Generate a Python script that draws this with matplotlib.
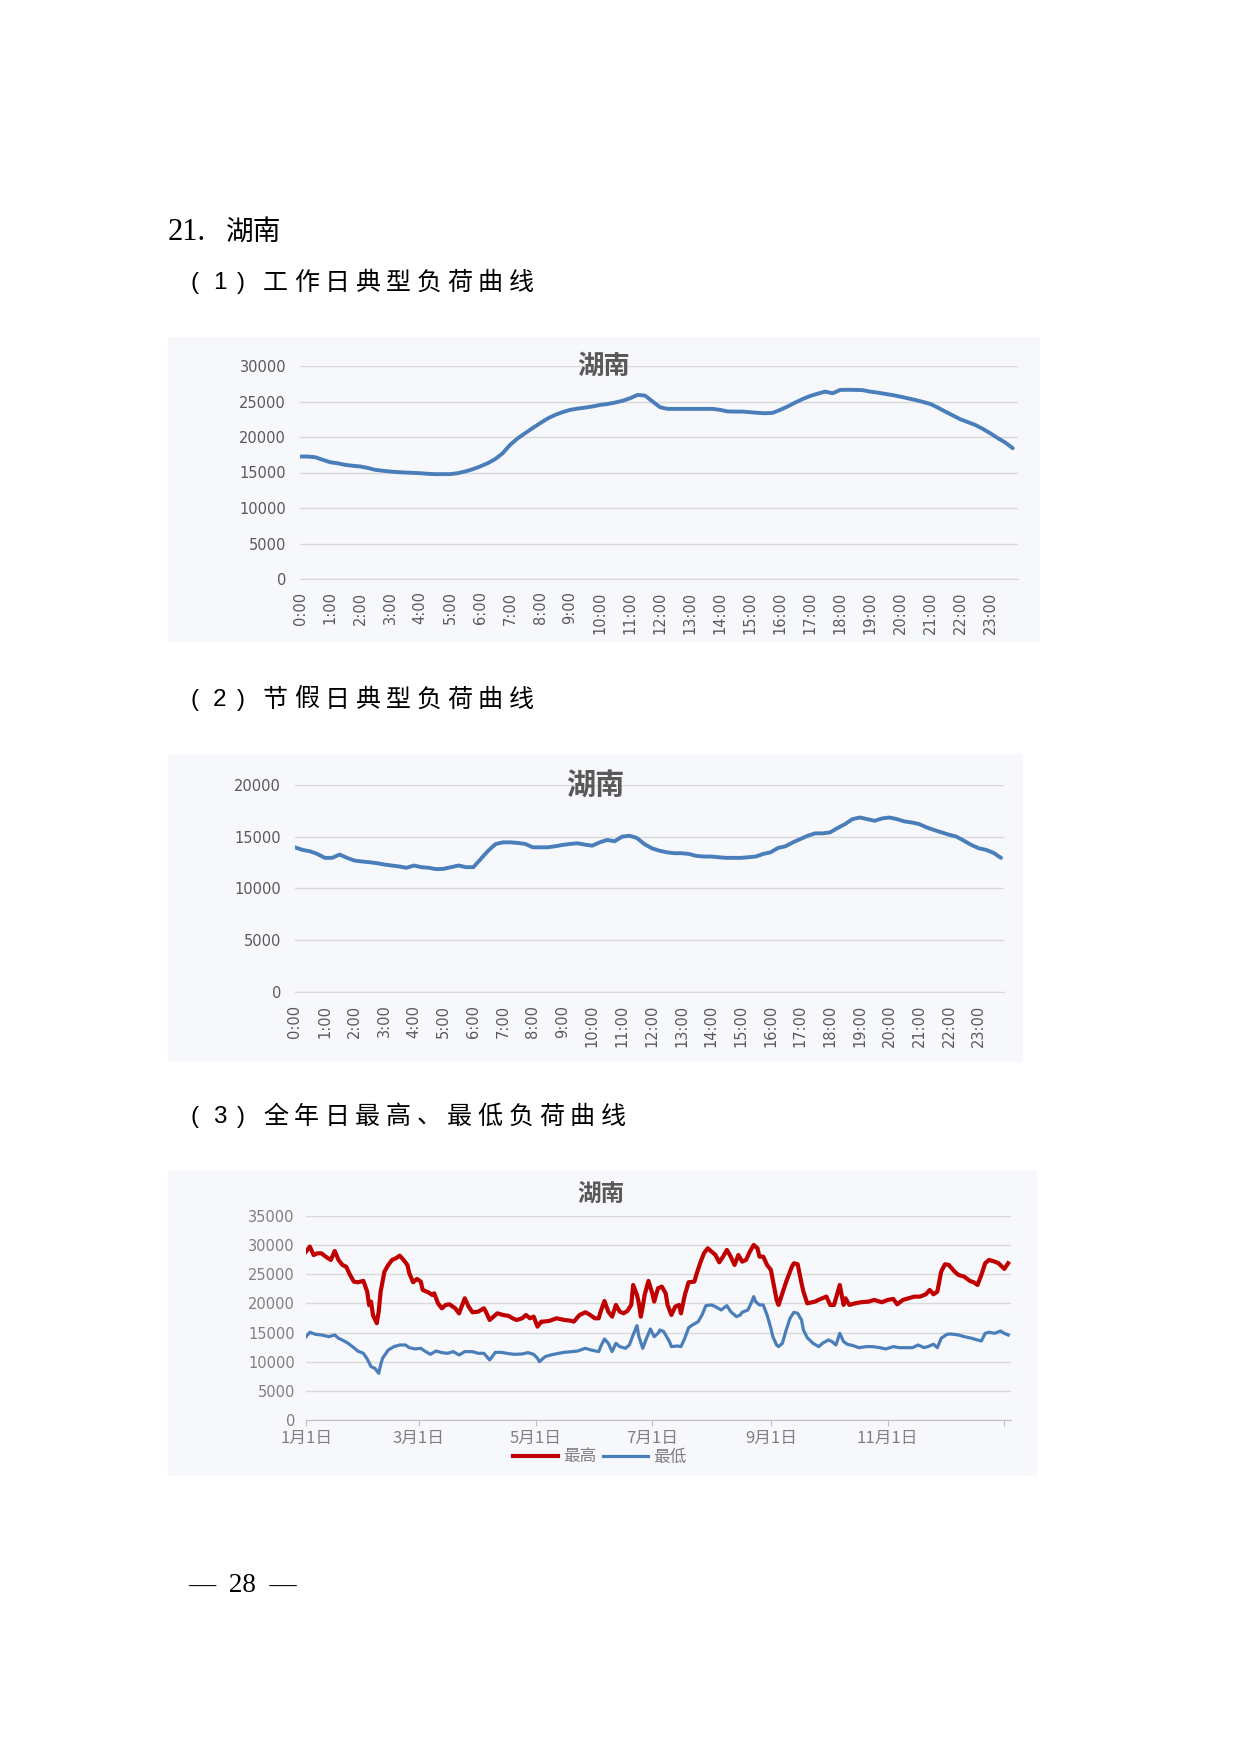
import matplotlib
matplotlib.use('Agg')
import matplotlib.pyplot as plt
from matplotlib.patches import Rectangle

plt.rcParams['font.family'] = ['Noto Sans CJK SC', 'DejaVu Sans']

# 工作日典型负荷 (15 min)
workday_load = [
    17250, 17250, 17160, 16800, 16450, 16300, 16080, 15950,
    15850, 15650, 15380, 15250, 15140, 15050, 15000, 14950,
    14900, 14820, 14770, 14770, 14770, 14900, 15140, 15450,
    15850, 16300, 16880, 17700, 18890, 19800, 20530, 21250,
    21940, 22600, 23110, 23500, 23820, 24000, 24140, 24300,
    24520, 24650, 24850, 25100, 25460, 25930, 25830, 24990,
    24190, 23960, 23960, 23960, 23960, 23960, 23960, 23960,
    23820, 23600, 23580, 23580, 23490, 23400, 23350, 23400,
    23820, 24300, 24850, 25350, 25780, 26100, 26390, 26160,
    26630, 26650, 26630, 26600, 26390, 26250, 26070, 25900,
    25690, 25450, 25220, 24950, 24660, 24150, 23580, 23050,
    22500, 22100, 21700, 21150, 20530, 19850, 19220, 18420,
]

# 节假日典型负荷 (15 min)
holiday_load = [
    13980, 13730, 13600, 13340, 12960, 12960, 13280, 12960,
    12700, 12610, 12540, 12450, 12320, 12220, 12130, 12000,
    12220, 12060, 12000, 11870, 11900, 12060, 12220, 12060,
    12060, 12860, 13660, 14300, 14460, 14460, 14400, 14300,
    13980, 13980, 13980, 14080, 14210, 14300, 14370, 14240,
    14140, 14460, 14690, 14560, 15010, 15100, 14880, 14300,
    13890, 13660, 13500, 13410, 13410, 13340, 13150, 13090,
    13090, 13020, 12960, 12960, 12960, 13020, 13090, 13340,
    13500, 13920, 14080, 14460, 14780, 15100, 15330, 15330,
    15420, 15840, 16220, 16700, 16860, 16700, 16540, 16770,
    16860, 16700, 16480, 16380, 16220, 15900, 15650, 15420,
    15200, 15010, 14620, 14210, 13890, 13730, 13440, 12960,
]

hour_labels = ['%d:00' % h for h in range(24)]

# 全年日最高负荷 (day of year, value)
max_days = [0, 2, 4, 6, 8, 11, 13, 15, 17, 19, 21, 23, 25, 27, 30, 32, 33, 34, 35, 37,
            38, 39, 41, 43, 45, 47, 49, 51, 53, 54, 56, 58, 60, 61, 64, 66, 67, 69, 71, 73,
            75, 78, 80, 82, 83, 85, 87, 90, 93, 94, 96, 98, 100, 103, 106, 108, 110, 113, 115, 117,
            119, 121, 123, 124, 127, 131, 135, 138, 140, 143, 146, 148, 151, 153, 154, 156, 158, 160, 162, 164,
            166, 168, 170, 171, 173, 174, 175, 176, 177, 179, 181, 182, 184, 186, 188, 189, 191, 193, 195, 196,
            198, 200, 203, 204, 206, 208, 210, 212, 214, 216, 218, 220, 222, 224, 226, 228, 230, 232, 234, 236,
            237, 239, 241, 243, 244, 246, 247, 249, 251, 254, 255, 257, 259, 260, 262, 266, 269, 272, 274, 276,
            279, 281, 282, 284, 287, 290, 294, 297, 301, 304, 307, 309, 312, 315, 318, 321, 324, 326, 328, 330,
            332, 334, 336, 339, 341, 344, 347, 349, 351, 353, 355, 357, 360, 362, 365, 367]
max_load = [28900, 29750, 28300, 28600, 28600, 27860, 27460, 29000, 27460, 26600, 26300, 24900, 23740, 23630, 23860, 22000, 19700, 20300, 18000, 16600,
            18600, 22000, 25460, 26600, 27460, 27750, 28200, 27460, 26600, 25170, 23630, 24200, 23740, 22310, 21900, 21450, 21740, 20020, 19160, 19740,
            19850, 19160, 18300, 20020, 20880, 19450, 18480, 18590, 19160, 18590, 17160, 17730, 18300, 18020, 17850, 17450, 17160, 17450, 18020, 17450,
            17730, 16020, 16880, 16880, 16990, 17450, 17160, 17050, 16880, 18020, 18480, 18130, 17450, 17450, 18590, 20420, 18590, 17730, 19740, 18590,
            18300, 18710, 19740, 23170, 21450, 20020, 17730, 19450, 21450, 23860, 21740, 20310, 22600, 22880, 21740, 19740, 18020, 19450, 19740, 18300,
            21450, 23630, 23740, 24890, 26890, 28600, 29460, 28890, 28320, 27060, 28030, 29180, 28030, 26600, 28320, 27170, 27460, 28890, 30030, 29460,
            28030, 28030, 26600, 25740, 24030, 20590, 19740, 21740, 23740, 26320, 26890, 26720, 23460, 22030, 20020, 20310, 20770, 21170, 19740, 19740,
            23170, 19740, 20880, 19740, 20020, 20200, 20310, 20600, 20200, 20600, 20770, 19850, 20600, 20880, 21170, 21170, 21570, 22310, 21570, 22030,
            25460, 26720, 26600, 25460, 24890, 24600, 23860, 23630, 23170, 24890, 26890, 27460, 27170, 26890, 25920, 26890]

# 全年日最低负荷 (day of year, value)
min_days = [0, 2, 5, 8, 12, 15, 17, 19, 22, 25, 27, 30, 32, 34, 36, 38, 39, 40, 43, 46,
            49, 52, 54, 57, 60, 62, 65, 68, 71, 74, 77, 80, 83, 87, 90, 93, 96, 99, 102, 106,
            109, 113, 116, 119, 121, 122, 125, 128, 132, 135, 139, 142, 146, 149, 153, 154, 156, 158, 160, 162,
            164, 167, 169, 171, 173, 174, 176, 178, 180, 182, 184, 185, 187, 190, 191, 194, 196, 198, 200, 202,
            205, 207, 209, 212, 214, 217, 220, 222, 225, 227, 228, 231, 233, 234, 235, 237, 239, 241, 243, 244,
            246, 247, 249, 251, 253, 255, 257, 259, 260, 262, 265, 268, 270, 273, 275, 277, 279, 281, 283, 286,
            289, 293, 296, 300, 303, 307, 310, 314, 317, 320, 323, 325, 328, 330, 332, 335, 337, 341, 344, 348,
            351, 353, 355, 357, 360, 363, 365, 367]
min_load = [14300, 15050, 14700, 14590, 14300, 14590, 14020, 13730, 13160, 12410, 11840, 11440, 10470, 9150, 8870, 8010, 9440, 10580, 12010, 12590,
            12870, 12870, 12410, 12190, 12300, 11840, 11270, 11840, 11560, 11440, 11730, 11160, 11730, 11730, 11440, 11440, 10300, 11610, 11610, 11380,
            11270, 11330, 11560, 11270, 10580, 10010, 10870, 11160, 11440, 11610, 11730, 11840, 12300, 12010, 11730, 12590, 13900, 13160, 11730, 13160,
            12590, 12300, 12870, 14590, 16190, 14300, 12300, 14020, 15620, 14300, 14870, 15450, 15160, 13440, 12590, 12700, 12590, 14020, 15850, 16300,
            16880, 18020, 19620, 19740, 19450, 18880, 19620, 18590, 17730, 18020, 18480, 18880, 20310, 21170, 20310, 19740, 19740, 18020, 15730, 14300,
            12870, 12590, 13160, 15450, 17450, 18480, 18300, 17160, 15450, 14130, 13160, 12590, 13160, 13730, 13440, 12870, 14870, 13440, 12990, 12760,
            12410, 12590, 12590, 12410, 12190, 12590, 12410, 12410, 12410, 12870, 12410, 12590, 12990, 12410, 14020, 14700, 14760, 14590, 14300, 14020,
            13730, 13560, 14870, 15050, 14870, 15270, 14870, 14590]

month_ticks = [0, 59, 120, 181, 243, 304, 365]
month_labels = ['1月1日', '3月1日', '5月1日', '7月1日', '9月1日', '11月1日', '']

W, H = 1240, 1754
fig = plt.figure(figsize=(W / 100, H / 100), dpi=100)
fig.patch.set_facecolor('white')

panel_bg = '#f7f8fb'
grid_c = '#d9d9d9'
text_c = '#595959'
line_blue = '#4a7ebb'
narrow = ['Liberation Sans Narrow', 'DejaVu Sans']


def rect(x0, y0, x1, y1):
    return [x0 / W, 1 - y1 / H, (x1 - x0) / W, (y1 - y0) / H]


def panel(x0, y0, x1, y1):
    fig.add_artist(Rectangle((x0 / W, 1 - y1 / H), (x1 - x0) / W, (y1 - y0) / H,
                             transform=fig.transFigure, facecolor=panel_bg,
                             edgecolor='none', zorder=0))


def heading(num, text, y):
    fig.text(191 / W, 1 - y / H, '(', family='Liberation Sans', size=17.5, va='center')
    fig.text(213 / W, 1 - y / H, num, family='Liberation Sans', size=17.5, va='center')
    fig.text(237 / W, 1 - y / H, ')', family='Liberation Sans', size=17.5, va='center')
    for i, ch in enumerate(text):
        fig.text((263 + 30.7 * i) / W, 1 - y / H, ch, size=18, va='center',
                 family='Noto Sans CJK SC', weight='light')


def style_axes(ax):
    ax.patch.set_visible(False)
    for s in ['top', 'right', 'left']:
        ax.spines[s].set_visible(False)
    ax.grid(axis='y', color=grid_c, lw=1)
    ax.set_axisbelow(True)


# 页眉文字
fig.text(168 / W, 1 - 232 / H, '21.', family='Liberation Serif', size=22, va='center')
fig.text(226 / W, 1 - 232 / H, '湖南', family='Noto Sans CJK SC', size=20, va='center',
         weight='light')

# (1) 工作日
heading('1', '工作日典型负荷曲线', 283)
panel(168, 337, 1040, 642)
ax1 = fig.add_axes(rect(300, 366, 1018, 579))
style_axes(ax1)
ax1.plot(range(len(workday_load)), workday_load, color=line_blue, lw=2.8, solid_capstyle='round')
ax1.set_xlim(0, 95.7)
ax1.set_ylim(0, 30000)
ax1.set_yticks(range(0, 30001, 5000))
ax1.set_xticks(range(0, 96, 4))
ax1.set_xticklabels(hour_labels, rotation=90, family=narrow, size=10.5, color=text_c)
ax1.tick_params(axis='y', length=0, pad=10, labelcolor=text_c, labelsize=10.5)
ax1.tick_params(axis='x', length=0, pad=9)
for lab in ax1.get_yticklabels():
    lab.set_family(narrow)
ax1.spines['bottom'].set_color(grid_c)
fig.text(604 / W, 1 - 366 / H, '湖南', ha='center', va='center', size=19,
         weight='bold', color=text_c)

# (2) 节假日
heading('2', '节假日典型负荷曲线', 700)
panel(168, 754, 1023, 1062)
ax2 = fig.add_axes(rect(295, 785, 1004, 992))
style_axes(ax2)
ax2.plot(range(len(holiday_load)), holiday_load, color=line_blue, lw=2.8, solid_capstyle='round')
ax2.set_xlim(0, 95.4)
ax2.set_ylim(0, 20000)
ax2.set_yticks(range(0, 20001, 5000))
ax2.set_xticks(range(0, 96, 4))
ax2.set_xticklabels(hour_labels, rotation=90, family=narrow, size=10.5, color=text_c)
ax2.tick_params(axis='y', length=0, pad=10, labelcolor=text_c, labelsize=10.5)
ax2.tick_params(axis='x', length=0, pad=9)
for lab in ax2.get_yticklabels():
    lab.set_family(narrow)
ax2.spines['bottom'].set_color(grid_c)
fig.text(595 / W, 1 - 786 / H, '湖南', ha='center', va='center', size=21,
         weight='bold', color=text_c)

# (3) 全年日最高、最低
heading('3', '全年日最高、最低负荷曲线', 1117)
panel(168, 1170, 1037, 1476)
ax3 = fig.add_axes(rect(306, 1216, 1011, 1420))
style_axes(ax3)
ax3.plot(max_days, max_load, color='#c00000', lw=3.0, label='最高')
ax3.plot(min_days, min_load, color=line_blue, lw=2.3, label='最低')
ax3.set_xlim(0, 368.5)
ax3.set_ylim(0, 35000)
ax3.set_yticks(range(0, 35001, 5000))
ax3.set_xticks(month_ticks)
ax3.set_xticklabels(month_labels, size=12, color='#7f7f7f')
ax3.tick_params(axis='y', length=0, pad=8, labelcolor='#7f7f7f', labelsize=10.5)
for lab in ax3.get_yticklabels():
    lab.set_family('DejaVu Sans')
ax3.tick_params(axis='x', length=4, color='#bfbfbf', pad=3)
ax3.spines['bottom'].set_color('#bfbfbf')
fig.text(601 / W, 1 - 1194 / H, '湖南', ha='center', va='center', size=17,
         weight='bold', color=text_c)
fig.legend(*ax3.get_legend_handles_labels(), loc='center',
           bbox_to_anchor=(600 / W, 1 - 1457 / H), ncol=2, frameon=False,
           fontsize=12, labelcolor='#7f7f7f', handlelength=2.7, handletextpad=0.3,
           columnspacing=0.4)

# 页码
fig.text(242 / W, 1 - 1585 / H, '—  28  —', family='Liberation Serif', size=19.5,
         ha='center', va='center')

fig.savefig('out.png', dpi=100)
